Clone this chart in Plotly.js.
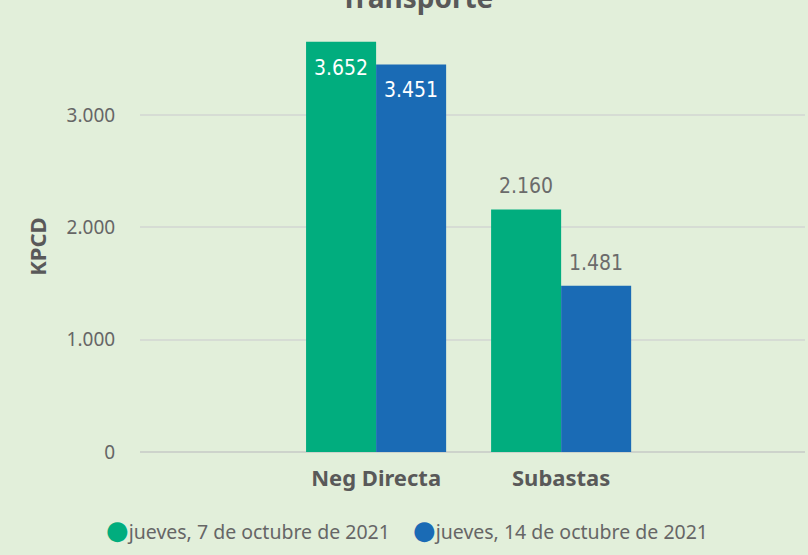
<!DOCTYPE html>
<html>
<head>
<meta charset="utf-8">
<script src="https://cdn.plot.ly/plotly-3.0.1.min.js"></script>
<style>html,body{margin:0;padding:0;background:#e2efda;}</style>
</head>
<body>
<div id="chart" style="width:808px;height:555px;"></div>
<script>
const categories = ["Neg Directa", "Subastas"];
const seriesNames = ["jueves, 7 de octubre de 2021", "jueves, 14 de octubre de 2021"];
const values7oct = [3652, 2160];
const values14oct = [3451, 1481];
const labels7oct = ["3.652", "2.160"];
const labels14oct = ["3.451", "1.481"];
const labelInside7 = [true, false];
const labelInside14 = [true, false];
const yTickVals = [0, 1000, 2000, 3000];
const chartTitle = "Transporte";
const yTitle = "KPCD";

const colors = ["#01ad7e", "#1a6bb5"];
const fontFam = "'Noto Sans', 'Open Sans', sans-serif";
const labelFam = "'Liberation Sans Narrow', 'DejaVu Sans Condensed', 'Roboto', sans-serif";

const traces = [
  {type: "bar", x: categories, y: values7oct, name: seriesNames[0], marker: {color: colors[0]}, showlegend: false, hoverinfo: "none"},
  {type: "bar", x: categories, y: values14oct, name: seriesNames[1], marker: {color: colors[1]}, showlegend: false, hoverinfo: "none"}
];

const annotations = [];
const series = [[values7oct, labels7oct, labelInside7, -35], [values14oct, labels14oct, labelInside14, 35]];
series.forEach(([vals, labs, ins, dx]) => {
  categories.forEach((c, i) => {
    annotations.push({
      x: c, y: vals[i], xref: "x", yref: "y", text: labs[i], showarrow: false,
      xshift: dx, yshift: ins[i] ? -26 : 23,
      font: {family: labelFam, size: 21, color: ins[i] ? "#ffffff" : "#6b6b6b"}
    });
  });
});

// legend drawn as text entries with circle glyphs
const legendX = [-0.054, 0.407];
seriesNames.forEach((n, i) => {
  annotations.push({
    xref: "paper", yref: "paper", x: legendX[i], y: -0.183, xanchor: "left", yanchor: "middle",
    showarrow: false,
    text: "<span style='color:" + colors[i] + ";font-family:DejaVu Sans;font-size:26px'>●</span>" + n,
    font: {family: fontFam, size: 19.5, color: "#666666"}
  });
});

// chart title (partly above the top edge, as in the reference)
annotations.push({
  xref: "paper", yref: "paper", x: 0.417, y: 1.0656, xanchor: "center", yanchor: "middle", showarrow: false,
  text: "<b>" + chartTitle + "</b>", font: {family: fontFam, size: 28, color: "#595959"}
});
// y-axis title
annotations.push({
  xref: "paper", yref: "paper", x: -0.156, y: 0.481, xanchor: "center", yanchor: "middle", showarrow: false,
  textangle: -90, text: "<b>" + yTitle + "</b>", font: {family: fontFam, size: 22, color: "#595959"}
});

const layout = {
  width: 808, height: 555,
  paper_bgcolor: "#e2efda", plot_bgcolor: "#e2efda",
  separators: ",.",
  margin: {l: 140, r: 3, t: 25, b: 103},
  barmode: "group", bargap: 0.243, bargroupgap: 0,
  showlegend: false,
  xaxis: {range: [-1.276, 2.318], showgrid: false, zeroline: false, showline: false, fixedrange: true,
          tickfont: {family: fontFam, size: 22, color: "#595959", weight: "bold"}, ticks: "outside", ticklen: 7, tickcolor: "rgba(0,0,0,0)"},
  yaxis: {range: [0, 3802], tickvals: yTickVals, tickformat: ",", showgrid: true, gridcolor: "#d6dcd4", gridwidth: 2,
          zeroline: true, zerolinecolor: "#cdd3cb", zerolinewidth: 2, showline: false,
          ticks: "outside", ticklen: 20, tickcolor: "rgba(0,0,0,0)",
          tickfont: {family: fontFam, size: 19, color: "#666666"}},
  annotations: annotations,
  font: {family: fontFam}
};

Plotly.newPlot("chart", traces, layout, {displayModeBar: false, staticPlot: true});
</script>
</body>
</html>
